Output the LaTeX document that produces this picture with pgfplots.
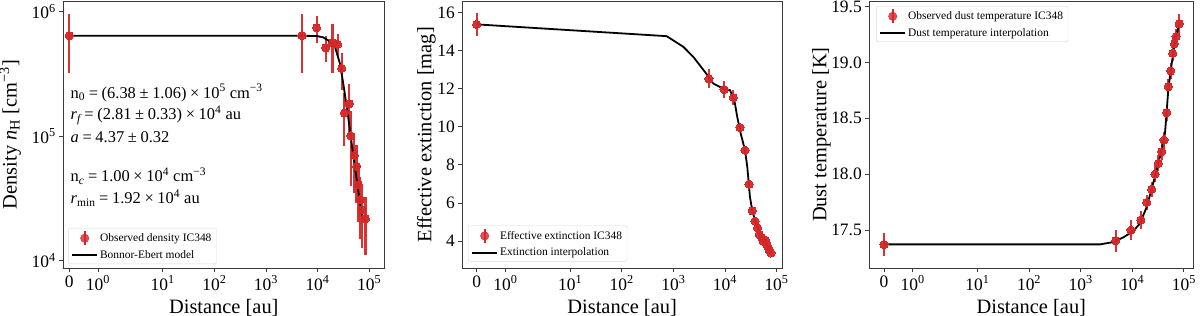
\documentclass[border=0pt]{standalone}
\usepackage{fontspec}
\setmainfont{Liberation Serif}
\usepackage{pgfplots}
\pgfplotsset{compat=1.18}
\definecolor{tabred}{HTML}{D62728}
\definecolor{framegray}{HTML}{3A3A3A}
\newcommand{\tickfont}{\fontsize{17.5}{17.5}\selectfont}
\newcommand{\labfont}{\fontsize{20.5}{20.5}\selectfont}
\newcommand{\annfont}{\fontsize{16.5}{16.5}\selectfont}
\newcommand{\tsup}[1]{10\textsuperscript{#1}}

\pgfplotsset{
  symlogx/.style={x filter/.expression={x<=2 ? 0.5556*x : 0.8111+ln(max(x,2))/ln(10)}},
  panel/.style={scale only axis, height=267.3bp, symlogx,
    xtick={0,0.5556,1.8111,2.8111,3.8111,4.8111,5.8111},
    xticklabels={\tickfont 0,\tickfont\tsup{0},\tickfont\tsup{1},\tickfont\tsup{2},\tickfont\tsup{3},\tickfont\tsup{4},\tickfont\tsup{5}},
    tick align=outside, xtick pos=bottom, ytick pos=left,
    major tick length=4bp, minor tick length=0bp,
    tick style={framegray, line width=0.8bp},
    axis line style={framegray, line width=0.9bp},
    legend cell align=left,
    legend style={font=\fontsize{11.5}{13}\selectfont, draw=black!15, rounded corners=2bp,
      fill=white, fill opacity=0.8, text opacity=1, row sep=2bp, inner xsep=3bp, inner ysep=2bp},
    xlabel={\labfont Distance [au]},
    xlabel style={at={(axis description cs:0.5,-0.146)}, anchor=center},
  },
  obs/.style={only marks, mark=*, mark size=4.1bp, tabred,
    mark options={fill=tabred, draw=tabred, line width=0pt, fill opacity=0.95},
    error bars/y dir=both, error bars/y explicit, error bars/error mark=none,
    error bars/error bar style={line width=2.2bp, tabred, opacity=0.95},
    legend image code/.code={%
      \draw[tabred, line width=2.2bp] (12.5bp,-7bp) -- (12.5bp,7bp);
      \fill[tabred] (12.5bp,0bp) circle[radius=4.2bp];
      \path[draw=none] (0bp,0bp) -- (25bp,0bp);}},
  model/.style={black, line width=1.8bp, no marks,
    legend image code/.code={\draw[black, line width=1.8bp] (0bp,0bp) -- (25bp,0bp);}},
}

\begin{document}
\begin{tikzpicture}

% ---------------- Panel 1: density ----------------
\begin{axis}[panel, at={(63.3bp,47.7bp)}, anchor=south west, width=321bp,
  xmin=-0.116, xmax=6.105,
  ymode=log, ymin=8655, ymax=1.214e6,
  ytick={1e4,1e5,1e6},
  yticklabels={\tickfont\tsup{4},\tickfont\tsup{5},\tickfont\tsup{6}},
  ylabel={\labfont Density \textit{n}\textsubscript{H} [cm\textsuperscript{−3}]},
  ylabel style={at={(axis description cs:-0.165,0.5)}, anchor=center},
  legend style={at={(axis description cs:0.015,0.016)}, anchor=south west},
]
\addplot[obs] table[x=x, y=y, y error=e] {
x y e
0 6.38e5 3.2e5
5000 6.4e5 3.2e5
9600 7.4e5 1.8e5
14400 5.1e5 1.2e5
19500 5.6e5 2.4e5
24500 5.45e5 1.2e5
29500 3.5e5 1.15e5
33000 1.53e5 0.7e5
41000 1.81e5 0.8e5
44000 1.0e5 0.6e5
51500 7.0e4 3.5e4
57000 5.7e4 2.8e4
62000 4.05e4 2.0e4
66700 3.1e4 1.6e4
72000 2.56e4 1.3e4
85000 2.17e4 1.06e4
};
\addlegendentry{Observed density IC348}
\addplot[model] table {
0 6.38e5
5200 6.38e5
9600 6.35e5
12800 6.2e5
16100 5.86e5
21800 5.18e5
27200 3.82e5
31500 2.64e5
37700 1.61e5
45900 8.7e4
57400 4.45e4
66500 2.9e4
77100 2.13e4
};
\addlegendentry{Bonnor-Ebert model}
\node[anchor=west, font=\annfont] at (axis description cs:0.012,0.656)
  {n\textsubscript{0}\:=\:(6.38\:±\:1.06)\:×\:10\textsuperscript{5} cm\textsuperscript{−3}};
\node[anchor=west, font=\annfont] at (axis description cs:0.012,0.573)
  {\textit{r\textsubscript{f}}\:=\:(2.81\:±\:0.33)\:×\:10\textsuperscript{4} au};
\node[anchor=west, font=\annfont] at (axis description cs:0.012,0.491)
  {\textit{a}\:=\:4.37\:±\:0.32};
\node[anchor=west, font=\annfont] at (axis description cs:0.012,0.345)
  {n\textsubscript{\textit{c}}\:=\:1.00\:×\:10\textsuperscript{4} cm\textsuperscript{−3}};
\node[anchor=west, font=\annfont] at (axis description cs:0.012,0.263)
  {\textit{r}\textsubscript{min}\:=\:1.92\:×\:10\textsuperscript{4} au};
\end{axis}

% ---------------- Panel 2: extinction ----------------
\begin{axis}[panel, at={(462.3bp,47.7bp)}, anchor=south west, width=319.7bp,
  xmin=-0.279, xmax=5.917,
  ymin=2.56, ymax=16.62,
  ytick={4,6,8,10,12,14,16},
  yticklabel={\tickfont\pgfmathprintnumber[assume math mode=true]{\tick}},
  ylabel={\labfont Effective extinction [mag]},
  ylabel style={at={(axis description cs:-0.1125,0.5)}, anchor=center},
  legend style={at={(axis description cs:0.018,0.025)}, anchor=south west},
]
\addplot[obs] table[x=x, y=y, y error=e] {
x y e
0 15.39 0.6
4900 12.53 0.5
9600 11.97 0.45
14500 11.55 0.4
19600 9.97 0.15
24500 8.77 0.15
29300 6.98 0.15
33900 5.58 0.12
38200 5.04 0.12
43100 4.68 0.12
46300 4.34 0.12
51500 4.16 0.1
55300 3.98 0.1
61600 4.04 0.1
66200 3.77 0.1
71400 3.55 0.1
78000 3.37 0.1
};
\addlegendentry{Effective extinction IC348}
\addplot[model] table {
0 15.39
743 14.77
1560 14.21
2440 13.68
4100 12.89
5940 12.28
8650 12.05
12500 11.93
15200 11.41
17300 10.53
20200 9.65
24500 8.77
27100 7.89
30500 6.32
33900 5.58
38200 5.10
47800 4.39
55300 4.05
61600 4.03
66200 3.72
78000 3.35
};
\addlegendentry{Extinction interpolation}
\end{axis}

% ---------------- Panel 3: dust temperature ----------------
\begin{axis}[panel, at={(869.3bp,47.7bp)}, anchor=south west, width=324bp,
  xmin=-0.285, xmax=5.994,
  ymin=17.157, ymax=19.55,
  ytick={17.5,18,18.5,19,19.5},
  yticklabel={\tickfont\pgfmathprintnumber[fixed,fixed zerofill,precision=1,assume math mode=true]{\tick}},
  ylabel={\labfont Dust temperature [K]},
  ylabel style={at={(axis description cs:-0.148,0.5)}, anchor=center},
  legend style={at={(axis description cs:0.021,0.981)}, anchor=north west},
]
\addplot[obs] table[x=x, y=y, y error=e] {
x y e
0 17.371 0.1
4780 17.403 0.1
9460 17.50 0.09
14600 17.589 0.08
19100 17.747 0.07
23800 17.864 0.07
27600 18.00 0.07
32000 18.097 0.07
37200 18.20 0.07
41200 18.306 0.07
46600 18.55 0.07
49900 18.783 0.07
55600 18.924 0.07
60800 19.083 0.07
65300 19.166 0.07
70500 19.231 0.07
81100 19.345 0.09
};
\addlegendentry{Observed dust temperature IC348}
\addplot[model] table {
0 17.371
2370 17.371
4300 17.392
6710 17.434
10500 17.49
14100 17.559
19100 17.708
25600 17.923
34500 18.156
43100 18.366
46600 18.574
50000 18.76
58200 18.993
67500 19.186
80500 19.345
};
\addlegendentry{Dust temperature interpolation}
\end{axis}
\pgfresetboundingbox
\path[use as bounding box] (0bp,0bp) rectangle (1200bp,316bp);
\end{tikzpicture}
\end{document}
